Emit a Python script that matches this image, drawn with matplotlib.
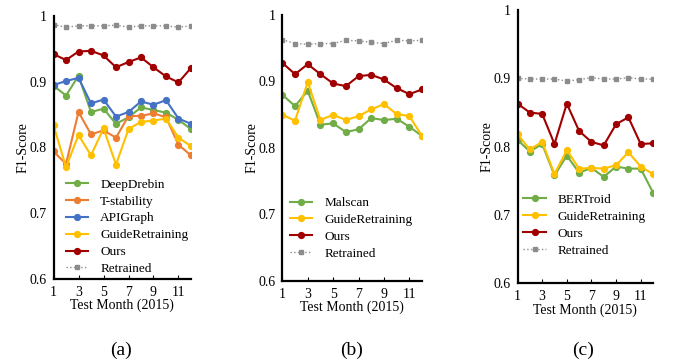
import numpy as np
import matplotlib.pyplot as plt

plt.rcParams['font.family'] = ['Liberation Serif', 'DejaVu Serif']

months = list(range(1, 13))

# panel (a)
a_deepdrebin = [0.894, 0.879, 0.909, 0.854, 0.859, 0.836, 0.846, 0.861, 0.857, 0.853, 0.842, 0.828]
a_tstability = [0.794, 0.775, 0.854, 0.820, 0.826, 0.815, 0.848, 0.848, 0.852, 0.846, 0.804, 0.788]
a_apigraph = [0.895, 0.901, 0.906, 0.867, 0.873, 0.847, 0.854, 0.870, 0.865, 0.872, 0.844, 0.836]
a_guide = [0.834, 0.770, 0.819, 0.788, 0.829, 0.774, 0.828, 0.839, 0.841, 0.844, 0.815, 0.802]
a_ours = [0.942, 0.933, 0.946, 0.947, 0.940, 0.922, 0.930, 0.937, 0.922, 0.908, 0.899, 0.921]
a_retrained = [0.987, 0.983, 0.985, 0.985, 0.985, 0.986, 0.983, 0.985, 0.985, 0.985, 0.983, 0.985]

# panel (b)
b_malscan = [0.880, 0.863, 0.886, 0.835, 0.837, 0.824, 0.828, 0.845, 0.842, 0.844, 0.832, 0.818]
b_guide = [0.850, 0.841, 0.899, 0.842, 0.850, 0.842, 0.848, 0.858, 0.866, 0.851, 0.848, 0.818]
b_ours = [0.928, 0.911, 0.926, 0.911, 0.897, 0.893, 0.908, 0.910, 0.903, 0.890, 0.881, 0.888]
b_retrained = [0.963, 0.957, 0.956, 0.957, 0.957, 0.962, 0.961, 0.959, 0.957, 0.962, 0.961, 0.962]

# panel (c)
c_bertroid = [0.810, 0.793, 0.804, 0.758, 0.787, 0.762, 0.769, 0.756, 0.771, 0.768, 0.768, 0.733]
c_guide = [0.818, 0.796, 0.807, 0.760, 0.795, 0.768, 0.769, 0.768, 0.773, 0.792, 0.771, 0.760]
c_ours = [0.863, 0.850, 0.848, 0.804, 0.863, 0.823, 0.807, 0.802, 0.833, 0.843, 0.804, 0.805]
c_retrained = [0.900, 0.899, 0.899, 0.899, 0.896, 0.898, 0.901, 0.899, 0.899, 0.901, 0.899, 0.899]

GREEN = '#70AD47'
ORANGE = '#ED7D31'
BLUE = '#4472C4'
YELLOW = '#FFC000'
RED = '#A00000'
GRAY = '#8C8C8C'


def line(ax, y, color, label):
    ax.plot(months, y, '-o', color=color, lw=1.5, ms=4.2, label=label)


def retrained(ax, y):
    ax.plot(months, y, ':s', color=GRAY, lw=1.0, ms=3.5, label='Retrained')


def style(ax):
    ax.set_xlim(1, 12)
    ax.set_ylim(0.6, 1.0)
    ax.set_xticks([1, 3, 5, 7, 9, 11])
    ax.set_yticks([0.6, 0.7, 0.8, 0.9, 1.0])
    ax.set_yticklabels(['0.6', '0.7', '0.8', '0.9', '1'])
    for s in ['top', 'right']:
        ax.spines[s].set_visible(False)
    for s in ['left', 'bottom']:
        ax.spines[s].set_linewidth(1.6)
    ax.tick_params(axis='x', direction='in', length=3, width=0.8, labelsize=10, pad=5)
    ax.tick_params(axis='y', length=0, labelsize=10, pad=5)
    ax.set_xlabel('Test Month (2015)', fontsize=10, labelpad=0)
    ax.set_ylabel('F1-Score', fontsize=10, labelpad=0)
    ax.patch.set_alpha(0)


fig = plt.figure(figsize=(6.73, 3.62), dpi=100)

ax1 = fig.add_axes([0.0795, 0.2293, 0.2043, 0.7265])
line(ax1, a_deepdrebin, GREEN, 'DeepDrebin')
line(ax1, a_tstability, ORANGE, 'T-stability')
line(ax1, a_apigraph, BLUE, 'APIGraph')
line(ax1, a_guide, YELLOW, 'GuideRetraining')
line(ax1, a_ours, RED, 'Ours')
retrained(ax1, a_retrained)
style(ax1)

ax2 = fig.add_axes([0.4195, 0.2238, 0.2076, 0.7348])
line(ax2, b_malscan, GREEN, 'Malscan')
line(ax2, b_guide, YELLOW, 'GuideRetraining')
line(ax2, b_ours, RED, 'Ours')
retrained(ax2, b_retrained)
style(ax2)

ax3 = fig.add_axes([0.769, 0.2169, 0.2013, 0.7555])
line(ax3, c_bertroid, GREEN, 'BERTroid')
line(ax3, c_guide, YELLOW, 'GuideRetraining')
line(ax3, c_ours, RED, 'Ours')
retrained(ax3, c_retrained)
style(ax3)

for ax, anchor in [(ax1, (0.09, 0.015)), (ax2, (0.055, 0.08)), (ax3, (0.043, 0.098))]:
    ax.legend(loc='lower left', bbox_to_anchor=anchor, frameon=False, fontsize=9.5,
              handlelength=1.7, handletextpad=0.9, labelspacing=0.35,
              borderaxespad=0, borderpad=0)

for x, t in [(0.18, '(a)'), (0.523, '(b)'), (0.867, '(c)')]:
    fig.text(x, 0.033, t, ha='center', va='center', fontsize=14)

fig.savefig('out.png', dpi=100)
